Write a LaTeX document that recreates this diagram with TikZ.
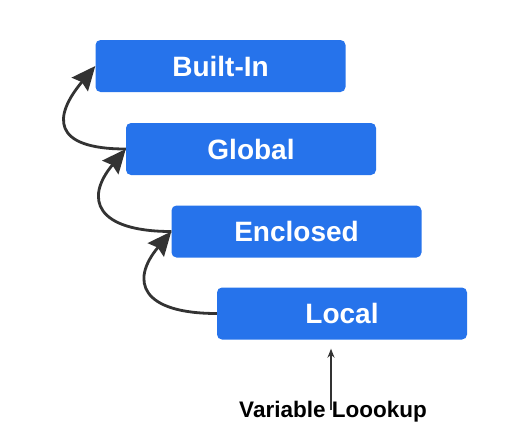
\documentclass[tikz,border=0pt]{standalone}
\usepackage{fontspec}
\setmainfont{Liberation Sans}
\usetikzlibrary{arrows.meta,calc}
\definecolor{boxblue}{HTML}{2673EB}
\definecolor{arrowgray}{HTML}{333333}
\begin{document}
\begin{tikzpicture}[x=1pt,y=1pt,
  scopebox/.style={fill=boxblue, rounded corners=5pt, minimum width=250pt,
    minimum height=52pt, inner sep=0pt, text=white,
    font=\bfseries\fontsize{28}{32}\selectfont},
  curvearrow/.style={draw=arrowgray, line width=2.8pt,
    -{Stealth[length=24pt,width=21pt,inset=3pt]}},
  thinarrow/.style={draw=arrowgray, line width=1.4pt,
    -{Stealth[length=9pt,width=7pt]}},
  caption/.style={text=black, font=\bfseries\fontsize{22.5}{26}\selectfont, inner sep=0pt}]
\useasboundingbox (0,0) rectangle (530,-442);
\node[scopebox] (b) at (220.5,-66) {Built-In};
\node[scopebox] (g) at (251,-149) {Global};
\node[scopebox] (e) at (296.5,-231.5) {Enclosed};
\node[scopebox] (l) at (342,-313.5) {Local};
\node[caption] (v) at (333,-412) {Variable Loookup};
\draw[curvearrow] (g.west) .. controls +(-75,0) and +(-42,-50) .. (b.west);
\draw[curvearrow] (e.west) .. controls +(-75,0) and +(-42,-50) .. (g.west);
\draw[curvearrow] (l.west) .. controls +(-75,0) and +(-42,-50) .. (e.west);
\coordinate (vs) at ($(v.north)+(-2,-9)$);
\coordinate (vt) at ($(l.south)+(-11,-9)$);
\draw[thinarrow] (vs) -- (vt);
\end{tikzpicture}
\end{document}
